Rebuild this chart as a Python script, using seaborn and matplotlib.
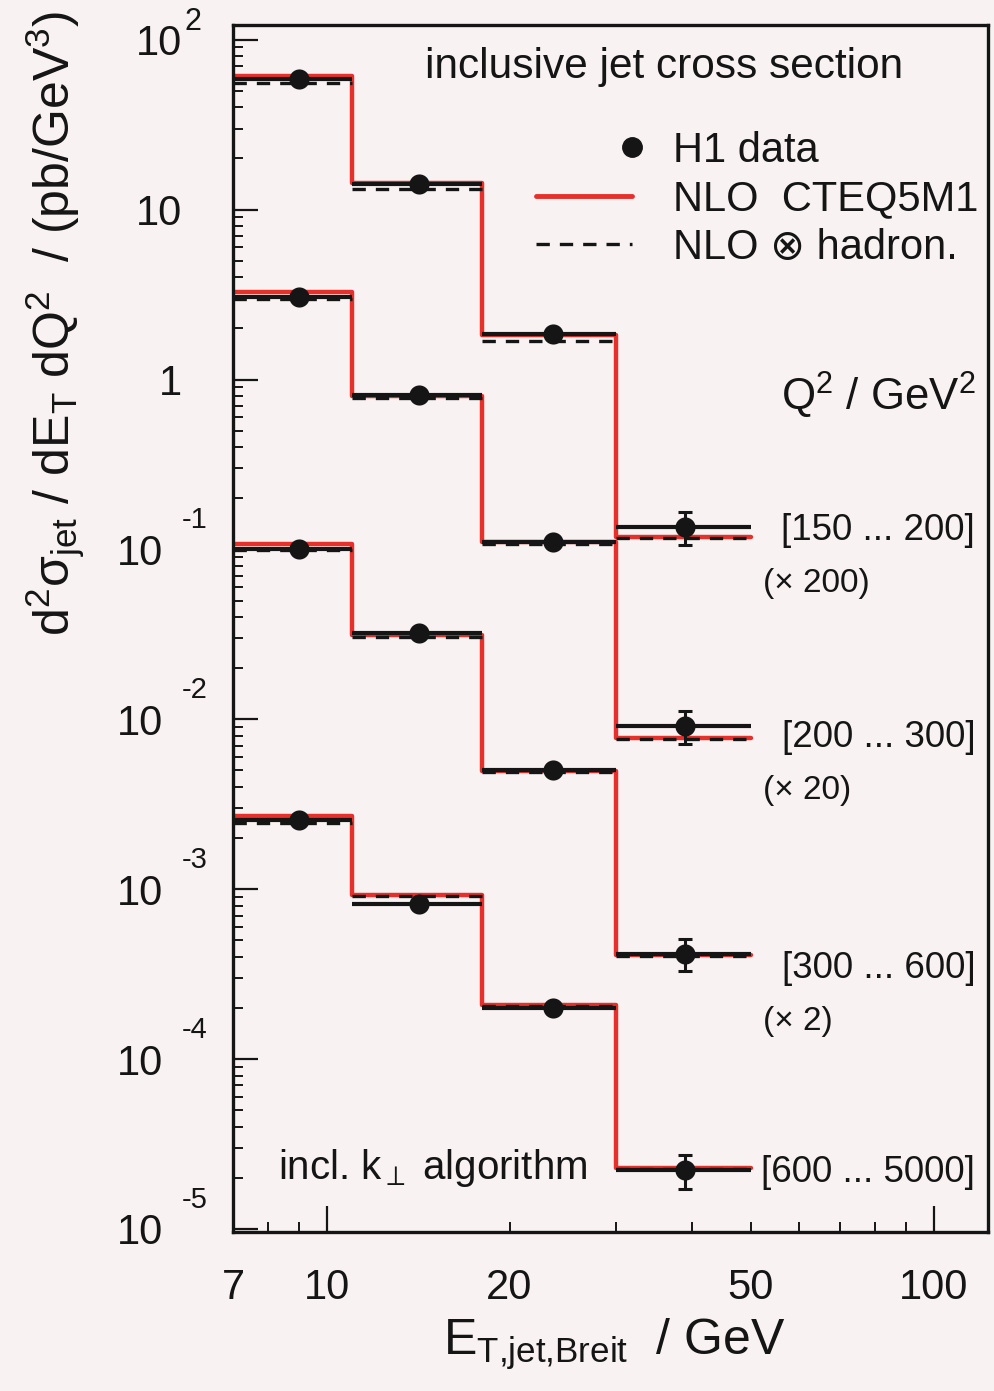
import numpy as np
import pandas as pd
import matplotlib
matplotlib.use("Agg")
import matplotlib.pyplot as plt
import seaborn as sns
from matplotlib.lines import Line2D
from matplotlib.legend_handler import HandlerLine2D
from matplotlib.ticker import FixedLocator, FixedFormatter, NullFormatter
from matplotlib.transforms import ScaledTranslation

# ---------------- data (values as displayed, already scaled) ----------------
bin_edges = [7, 11, 18, 30, 50]
et_mean = [9.0, 14.2, 23.6, 39.0]

q2_labels = ["[150 ... 200]", "[200 ... 300]", "[300 ... 600]", "[600 ... 5000]"]
scale_labels = ["(\u00d7 200)", "(\u00d7 20)", "(\u00d7 2)", ""]

h1_q150 = [59.0, 14.1, 1.85, 0.136]
h1_q200 = [3.05, 0.812, 0.111, 0.00912]
h1_q300 = [0.101, 0.0321, 0.00503, 0.000418]
h1_q600 = [0.00256, 0.000822, 0.000201, 2.22e-5]

err_q150 = [2.0, 0.5, 0.07, 0.030]
err_q200 = [0.10, 0.03, 0.005, 0.0020]
err_q300 = [0.004, 0.0013, 0.00025, 0.00009]
err_q600 = [0.0001, 0.00004, 0.00001, 0.5e-5]

nlo_q150 = [61.5, 14.3, 1.83, 0.119]
nlo_q200 = [3.27, 0.80, 0.111, 0.00776]
nlo_q300 = [0.108, 0.0312, 0.00497, 0.000412]
nlo_q600 = [0.0027, 0.000929, 0.000207, 2.28e-5]

had_q150 = [55.9, 13.2, 1.69, 0.116]
had_q200 = [2.97, 0.78, 0.108, 0.00766]
had_q300 = [0.099, 0.0305, 0.0049, 0.000407]
had_q600 = [0.00245, 0.000917, 0.000204, 2.25e-5]

h1 = [h1_q150, h1_q200, h1_q300, h1_q600]
errs = [err_q150, err_q200, err_q300, err_q600]
nlo = [nlo_q150, nlo_q200, nlo_q300, nlo_q600]
had = [had_q150, had_q200, had_q300, had_q600]

x_ticks_major = [10, 100]
x_ticks_minor = [8, 9, 20, 30, 40, 50, 60, 70, 80, 90]
x_tick_labels = ["7", "10", "20", "50", "100"]
x_tick_label_pos = [7, 10, 20, 50, 100]

y_exponents = [-5, -4, -3, -2, -1, 0, 1, 2]

# ---------------- style ----------------
sns.set_theme(style="ticks")
plt.rcParams["font.family"] = ["Liberation Sans", "DejaVu Sans"]
plt.rcParams["mathtext.fontset"] = "custom"
plt.rcParams["mathtext.rm"] = "Liberation Sans"
plt.rcParams["mathtext.it"] = "Liberation Sans:italic"
plt.rcParams["mathtext.bf"] = "Liberation Sans:bold"

BG = "#f8f3f2"
RED = "#e5302c"
INK = "#151515"

fig = plt.figure(figsize=(9.94, 13.91), dpi=100, facecolor=BG)
ax = fig.add_axes([0.2344, 0.1143, 0.7596, 0.8677])
ax.set_facecolor(BG)
ax.set_xscale("log")
ax.set_yscale("log")

lo = np.array(bin_edges[:-1], dtype=float)
hi = np.array(bin_edges[1:], dtype=float)
xm = np.array(et_mean)

for k in range(4):
    red_vals = list(nlo[k]) + [nlo[k][-1]]
    df = pd.DataFrame({"et": bin_edges, "xs": red_vals})
    sns.lineplot(data=df, x="et", y="xs", ax=ax, color=RED, lw=3.2,
                 drawstyle="steps-post", estimator=None, sort=False, zorder=2)
    ax.hlines(had[k], lo, hi, colors=INK, linestyles=(0, (4, 3)), lw=2.4, zorder=3)
    y = np.array(h1[k])
    ax.errorbar(xm, y, xerr=[xm - lo, hi - xm], fmt="none", ecolor=INK,
                elinewidth=3.0, capsize=0, zorder=4)
    ax.errorbar(xm, y, yerr=errs[k], fmt="none", ecolor=INK,
                elinewidth=2.2, capsize=5, capthick=2.2, zorder=4)
    sns.scatterplot(x=xm, y=y, ax=ax, color=INK, s=210, edgecolor=INK,
                    linewidth=0, zorder=5, legend=False)

ax.set_xlim(7, 123)
ax.set_ylim(9.6e-6, 122)

# ---------------- ticks ----------------
ax.xaxis.set_major_locator(FixedLocator(x_ticks_major))
ax.xaxis.set_minor_locator(FixedLocator(x_ticks_minor))
ax.xaxis.set_major_formatter(NullFormatter())
ax.xaxis.set_minor_formatter(NullFormatter())
ax.tick_params(axis="x", which="major", direction="in", length=19, width=1.6,
               colors=INK, top=False)
ax.tick_params(axis="x", which="minor", direction="in", length=7, width=1.4,
               colors=INK, top=False)
for xv, lab in zip(x_tick_label_pos, x_tick_labels):
    ax.annotate(lab, xy=(xv, 0), xycoords=("data", "axes fraction"),
                xytext=(0, -26), textcoords="offset points", ha="center",
                va="top", fontsize=30, color=INK)

y_major = [10.0 ** e for e in y_exponents]
y_labels = ["1" if e == 0 else "10" for e in y_exponents]
y_minor = [m * 10.0 ** e for e in range(-6, 3) for m in range(2, 10)]
ax.yaxis.set_major_locator(FixedLocator(y_major))
ax.yaxis.set_major_formatter(FixedFormatter(y_labels))
ax.yaxis.set_minor_locator(FixedLocator(y_minor))
ax.yaxis.set_minor_formatter(NullFormatter())
ax.tick_params(axis="y", which="major", direction="in", length=18, width=1.6,
               colors=INK, pad=36.5, labelsize=30, right=False)
ax.tick_params(axis="y", which="minor", direction="in", length=7, width=1.4,
               colors=INK, right=False)
fig.canvas.draw()
for lab, e in zip(ax.get_yticklabels(), y_exponents):
    if e < 0:
        lab.set_transform(lab.get_transform() +
                          ScaledTranslation(-19 / 100, 0, fig.dpi_scale_trans))
# exponents of the decade labels
for e in y_exponents:
    if e in (0, 1):
        continue
    if e < 0:
        ax.annotate("%d" % e, xy=(0, 10.0 ** e), xycoords=("axes fraction", "data"),
                    xytext=(-37, 21), textcoords="offset points", ha="left",
                    va="center", fontsize=21, color=INK)
    else:
        ax.annotate("%d" % e, xy=(0, 10.0 ** e), xycoords=("axes fraction", "data"),
                    xytext=(-35, 13), textcoords="offset points", ha="left",
                    va="center", fontsize=22, color=INK)

for sp in ax.spines.values():
    sp.set_linewidth(2.4)
    sp.set_color(INK)

# ---------------- axis labels ----------------
ax.set_ylabel(r"$\mathregular{d^2\sigma_{jet}\ /\ dE_T\ dQ^2}$  / (pb/GeV$\mathregular{^3}$)",
              fontsize=36, color=INK, loc="top")
ax.yaxis.set_label_coords(-0.194, 1.012)
ax.set_xlabel(r"$\mathregular{E_{T{,}jet{,}Breit}}$  / GeV", fontsize=36, color=INK,
              labelpad=58)
ax.xaxis.set_label_coords(0.505, -0.07)
ax.xaxis.label.set_va("top")

# ---------------- annotations ----------------
ax.text(0.254, 0.965, "inclusive jet cross section", transform=ax.transAxes,
        fontsize=30.5, ha="left", va="center", color=INK)
ax.text(0.983, 0.693, r"$\mathregular{Q^2}$ / GeV$\mathregular{^2}$",
        transform=ax.transAxes, fontsize=31.5, ha="right", va="center", color=INK)
q_y = [0.5816, 0.410, 0.2187, 0.0497]
s_y = [0.5377, 0.366, 0.174, 0.0]
for k in range(4):
    ax.text(0.983, q_y[k], q2_labels[k], transform=ax.transAxes, fontsize=26.5,
            ha="right", va="center", color=INK)
    if scale_labels[k]:
        ax.text(0.702, s_y[k], scale_labels[k], transform=ax.transAxes,
                fontsize=24, ha="left", va="center", color=INK)
ax.text(0.0596, 0.053, r"incl. $\mathregular{k_{\perp}}$ algorithm",
        transform=ax.transAxes, fontsize=29, ha="left", va="center", color=INK)

# ---------------- legend ----------------
class RightMarkerHandler(HandlerLine2D):
    def get_xdata(self, legend, xdescent, ydescent, width, height, fontsize):
        xmark = np.array([-xdescent + width])
        return xmark, xmark

h_data = Line2D([], [], ls="none", marker="o", ms=14, color=INK)
h_nlo = Line2D([], [], color=RED, lw=3.5)
h_had = Line2D([], [], color=INK, lw=2.4, ls=(0, (4, 3)))
leg = ax.legend([h_data, h_nlo, h_had],
                ["H1 data", "NLO  CTEQ5M1", "NLO \u2297 hadron."],
                loc="upper left", bbox_to_anchor=(0.401, 0.9126), frameon=False,
                fontsize=30, handlelength=2.3, handletextpad=1.0,
                labelspacing=0.21, borderpad=0, borderaxespad=0,
                handler_map={h_data: RightMarkerHandler(numpoints=2)})
for t in leg.get_texts():
    t.set_color(INK)

fig.savefig("out.png", dpi=100, facecolor=BG)
